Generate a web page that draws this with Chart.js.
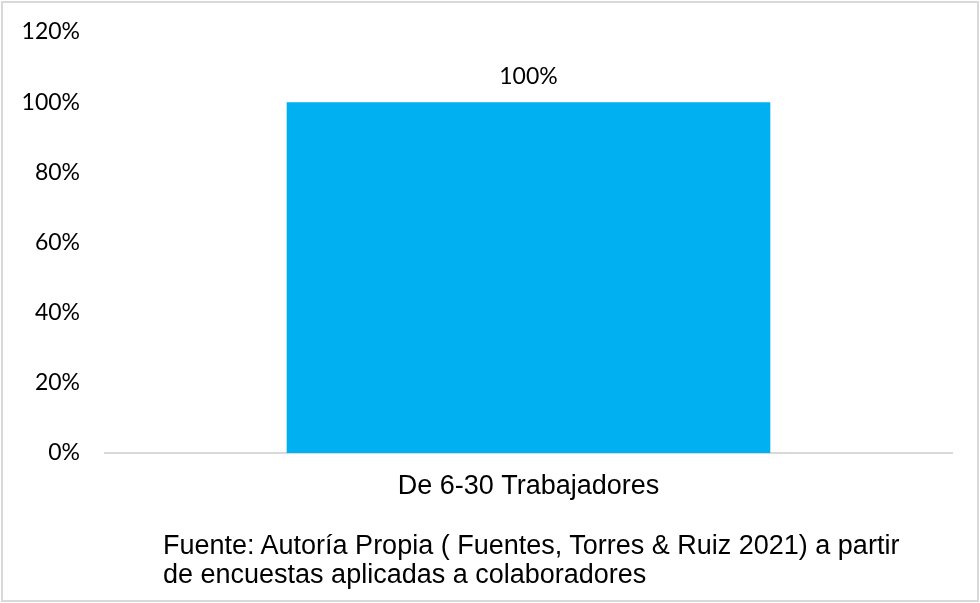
<!DOCTYPE html>
<html lang="es">
<head>
<meta charset="utf-8">
<title>Tamaño de empresa</title>
<script src="https://cdn.jsdelivr.net/npm/chart.js@4.4.1/dist/chart.umd.min.js"></script>
<style>
  html, body { margin: 0; padding: 0; background: #fff; }
  #grafico { position: absolute; left: 0; top: 0; }
  #marco {
    position: absolute; left: 1px; top: 1px; width: 978px; height: 601px;
    box-sizing: border-box; border: 2px solid #d9d9d9; pointer-events: none;
  }
  #fuente {
    position: absolute; left: 163px; top: 531px;
    font-family: "Liberation Sans", Arial, sans-serif; font-size: 27px; line-height: 29px;
    color: #000; white-space: nowrap;
  }
</style>
</head>
<body>
<canvas id="grafico" width="980" height="603"></canvas>
<div id="marco"></div>
<div id="fuente">Fuente: Autoría Propia ( Fuentes, Torres &amp; Ruiz 2021) a partir<br>de encuestas aplicadas a colaboradores</div>
<script>
  "use strict";

  const categorias = ["De 6-30 Trabajadores"];
  const porcentajes = [100];
  const marcasY = [0, 20, 40, 60, 80, 100, 120];

  const FUENTE_NUM = "Lato";
  const FUENTE_TXT = "Liberation Sans";

  // Escribe el porcentaje encima de cada barra
  const etiquetaValor = {
    id: "etiquetaValor",
    afterDatasetsDraw(chart) {
      const ctx = chart.ctx;
      const meta = chart.getDatasetMeta(0);
      ctx.save();
      ctx.font = `23px ${FUENTE_NUM}`;
      ctx.fillStyle = "#000";
      ctx.textAlign = "center";
      ctx.textBaseline = "alphabetic";
      meta.data.forEach((barra, i) => {
        ctx.fillText(porcentajes[i] + "%", barra.x, barra.y - 18);
      });
      ctx.restore();
    },
  };

  function dibujar() {
    const ctx = document.getElementById("grafico").getContext("2d");
    new Chart(ctx, {
      type: "bar",
      data: {
        labels: categorias,
        datasets: [
          {
            data: porcentajes,
            backgroundColor: "#00B0F0",
            categoryPercentage: 1,
            barPercentage: 0.571,
          },
        ],
      },
      options: {
        responsive: false,
        animation: false,
        layout: { padding: { left: 0, right: 28, top: 32, bottom: 100 } },
        plugins: {
          legend: { display: false },
          tooltip: { enabled: false },
        },
        scales: {
          x: {
            grid: { display: false, drawTicks: false },
            border: { color: "#d9d9d9", width: 2 },
            ticks: {
              color: "#000",
              font: { family: FUENTE_TXT, size: 27 },
              padding: 17,
            },
            afterFit: (s) => { s.height = 50; },
          },
          y: {
            min: 0,
            max: 120,
            grid: { display: false, drawTicks: false },
            border: { display: false },
            afterBuildTicks: (s) => { s.ticks = marcasY.map((v) => ({ value: v })); },
            ticks: {
              color: "#000",
              font: { family: FUENTE_NUM, size: 23 },
              padding: 25,
              callback: (v) => v + "%",
            },
            // ancho fijo del eje; el padding de las etiquetas no debe empujar el área
            afterFit: (s) => {
              s.width = 105;
              s.paddingTop = 0;
              s.paddingBottom = 0;
            },
          },
        },
      },
      plugins: [etiquetaValor],
    });
  }

  Promise.all([
    document.fonts.load(`23px ${FUENTE_NUM}`),
    document.fonts.load(`27px "${FUENTE_TXT}"`),
  ]).then(dibujar, dibujar);
</script>
</body>
</html>
